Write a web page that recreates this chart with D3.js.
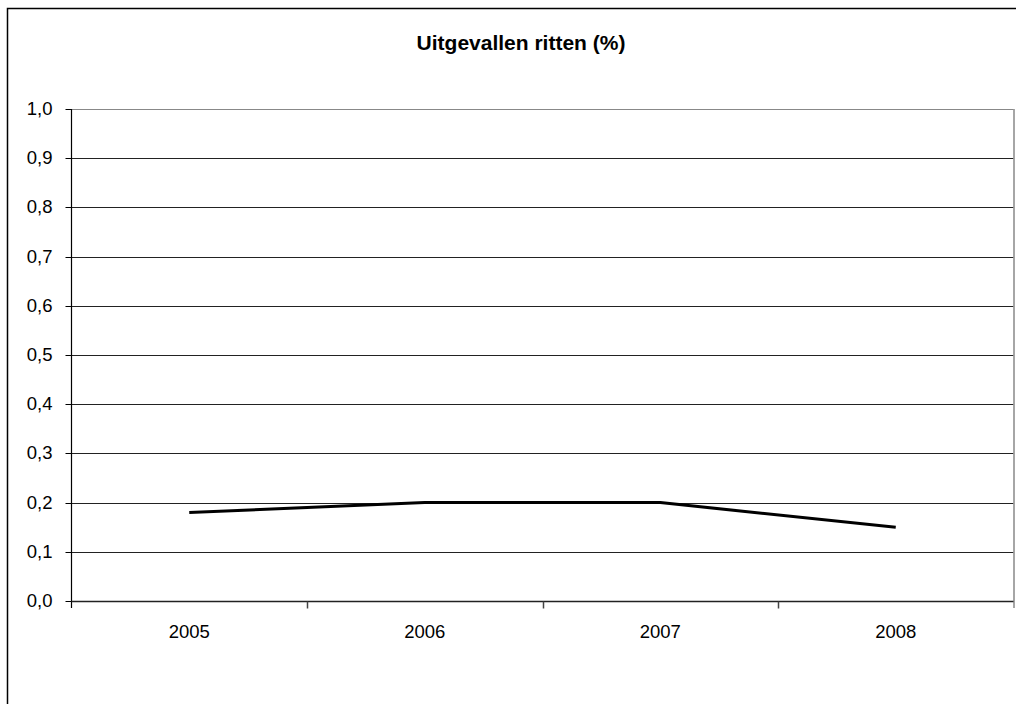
<!DOCTYPE html>
<html>
<head>
<meta charset="utf-8">
<script src="https://cdn.jsdelivr.net/npm/d3@7"></script>
<style>
  html, body { margin: 0; padding: 0; background: #fff; overflow: hidden; }
  svg { display: block; }
  text { font-family: "Liberation Sans", Arial, Helvetica, sans-serif; fill: #000; }
</style>
</head>
<body>
<svg id="chart" width="1016" height="704"></svg>
<script>
// Cancelled rides per year, in percent
const years = ["2005", "2006", "2007", "2008"];
const cancelledPct = [0.18, 0.20, 0.20, 0.15];
const yTicks = [0, 0.1, 0.2, 0.3, 0.4, 0.5, 0.6, 0.7, 0.8, 0.9, 1.0];
const chartTitle = "Uitgevallen ritten (%)";

const svg = d3.select("#chart");
const W = 1016, H = 704;
const plot = { left: 71.5, right: 1013.5, top: 109, bottom: 601 };
const labelSize = 18.5;

// outer chart frame: only its left and top edges fall inside the page
svg.append("path")
  .attr("d", `M7.5,${H + 5}V8.5H${W + 5}`)
  .attr("fill", "none").attr("stroke", "#000").attr("stroke-width", 1.5);

const x = d3.scaleBand().domain(years).range([plot.left, plot.right]).padding(0);
const y = d3.scaleLinear().domain([0, 1]).range([plot.bottom, plot.top]);

// horizontal gridlines
svg.append("g").selectAll("line").data(yTicks.filter(d => d > 0)).join("line")
  .attr("x1", plot.left).attr("x2", plot.right)
  .attr("y1", d => Math.round(y(d)) + 0.5).attr("y2", d => Math.round(y(d)) + 0.5)
  .attr("stroke", d => d === 1 ? "#888" : "#222").attr("stroke-width", 1);

// right plot edge
svg.append("line")
  .attr("x1", plot.right + 0.5).attr("x2", plot.right + 0.5)
  .attr("y1", plot.top).attr("y2", plot.bottom + 7)
  .attr("stroke", "#888").attr("stroke-width", 1.5);

// y axis
const yAxis = d3.axisLeft(y).tickValues(yTicks).tickSize(6).tickPadding(13)
  .tickFormat(d => d3.format(".1f")(d).replace(".", ","));
const gy = svg.append("g").attr("transform", `translate(${plot.left},0)`).call(yAxis);
gy.select(".domain").attr("stroke", "#000").attr("stroke-width", 1.2)
  .attr("d", `M0,${plot.top}V${plot.bottom + 7}`);
gy.selectAll(".tick line").attr("stroke", "#000");
gy.selectAll(".tick").attr("transform", d => `translate(0,${Math.round(y(d)) + 0.5})`);
gy.selectAll(".tick text").attr("font-size", labelSize).attr("font-family", "Liberation Sans, Arial, sans-serif").attr("fill", "#000");

// x axis
const xAxis = d3.axisBottom(x).tickSize(0).tickPadding(0);
const gx = svg.append("g").attr("transform", `translate(0,${plot.bottom + 0.5})`).call(xAxis);
gx.select(".domain").attr("stroke", "#222").attr("stroke-width", 1.5)
  .attr("d", `M${plot.left},0H${plot.right}`);
gx.selectAll(".tick text").attr("font-size", labelSize).attr("font-family", "Liberation Sans, Arial, sans-serif")
  .attr("fill", "#000").attr("dy", null).attr("y", 36);
// category boundary ticks
const bounds = years.map(d => x(d)).concat([plot.right]);
gx.append("g").selectAll("line").data(bounds.slice(1, -1)).join("line")
  .attr("x1", d => Math.round(d) + 0.5).attr("x2", d => Math.round(d) + 0.5)
  .attr("y1", 0).attr("y2", 7).attr("stroke", "#444").attr("stroke-width", 1.5);

// data line
const line = d3.line().x((d, i) => x(years[i]) + x.bandwidth() / 2).y(d => y(d));
svg.append("path").datum(cancelledPct)
  .attr("d", line).attr("fill", "none").attr("stroke", "#000")
  .attr("stroke-width", 3).attr("stroke-linejoin", "round");

// title
svg.append("text").attr("x", 521).attr("y", 50).attr("text-anchor", "middle")
  .attr("font-size", 21).attr("font-weight", "bold").text(chartTitle);
</script>
</body>
</html>
